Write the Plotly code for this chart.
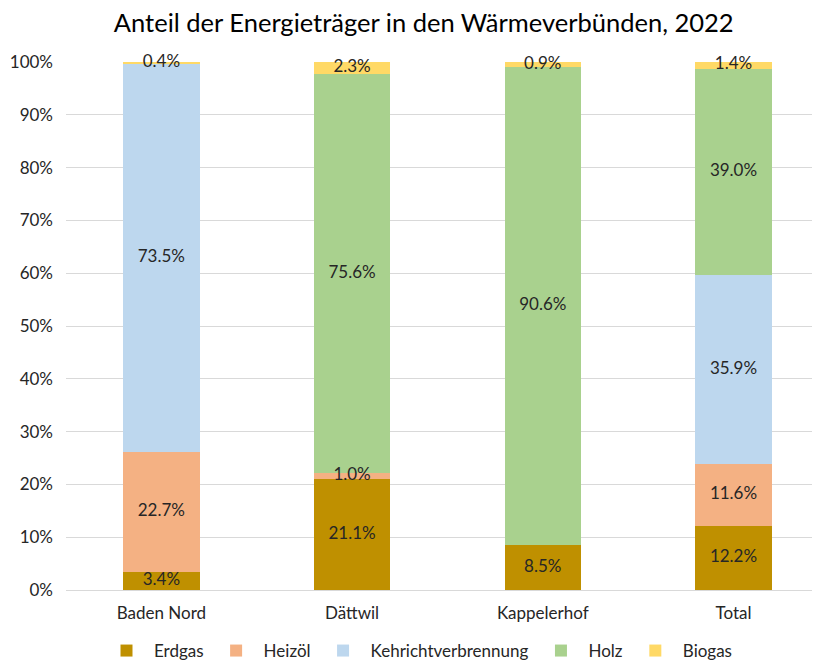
import plotly.graph_objects as go

standorte = ["Baden Nord", "Dättwil", "Kappelerhof", "Total"]

erdgas = [3.4, 21.1, 8.5, 12.2]
heizoel = [22.7, 1.0, 0.0, 11.6]
kehricht = [73.5, 0.0, 0.0, 35.9]
holz = [0.0, 75.6, 90.6, 39.0]
biogas = [0.4, 2.3, 0.9, 1.4]

reihen = [
    ("Erdgas", erdgas, "#BF9000"),
    ("Heizöl", heizoel, "#F4B183"),
    ("Kehrichtverbrennung", kehricht, "#BDD7EE"),
    ("Holz", holz, "#A9D18E"),
    ("Biogas", biogas, "#FFD966"),
]

fig = go.Figure()
basis = [0.0] * len(standorte)
lab_x, lab_y, lab_t = [], [], []
for name, werte, farbe in reihen:
    fig.add_trace(go.Bar(
        x=standorte,
        y=werte,
        name=name,
        marker=dict(color=farbe, line=dict(width=0)),
        width=0.40,
    ))
    # Beschriftung in der Mitte des Segments
    for i, v in enumerate(werte):
        if v > 0:
            lab_x.append(standorte[i])
            lab_y.append(basis[i] + v / 2)
            lab_t.append(f"{v:.1f}%")
        basis[i] += v

fig.add_trace(go.Scatter(
    x=lab_x,
    y=lab_y,
    text=lab_t,
    mode="text",
    textposition="middle center",
    textfont=dict(size=17, color="#262626"),
    showlegend=False,
    hoverinfo="skip",
    cliponaxis=False,
))

fig.update_layout(
    barmode="stack",
    template="plotly_white",
    width=820,
    height=661,
    font=dict(family="Lato, Open Sans, sans-serif", color="#404040", size=17),
    title=dict(
        text="Anteil der Energieträger in den Wärmeverbünden, 2022",
        xref="container",
        x=0.507,
        xanchor="center",
        y=0.99,
        yanchor="top",
        font=dict(size=25.5, color="#000000"),
    ),
    margin=dict(l=58, r=2, t=54, b=79),
    plot_bgcolor="white",
    paper_bgcolor="white",
    legend=dict(
        orientation="h",
        xref="container",
        x=0.5,
        xanchor="center",
        yref="container",
        y=0.0,
        yanchor="bottom",
        font=dict(size=17, color="#262626"),
        itemwidth=45,
        traceorder="normal",
    ),
    xaxis=dict(
        range=[-0.5, 3.485],
        showgrid=False,
        showline=True,
        linecolor="#D9D9D9",
        linewidth=1,
        tickfont=dict(size=17, color="#262626"),
        ticklabelstandoff=8,
        automargin=False,
    ),
    yaxis=dict(
        range=[0, 100],
        dtick=10,
        ticksuffix="%",
        gridcolor="#D9D9D9",
        zeroline=False,
        tickfont=dict(size=17, color="#262626"),
        ticklabelstandoff=12,
        automargin=False,
    ),
)

fig.write_html("out.html")
